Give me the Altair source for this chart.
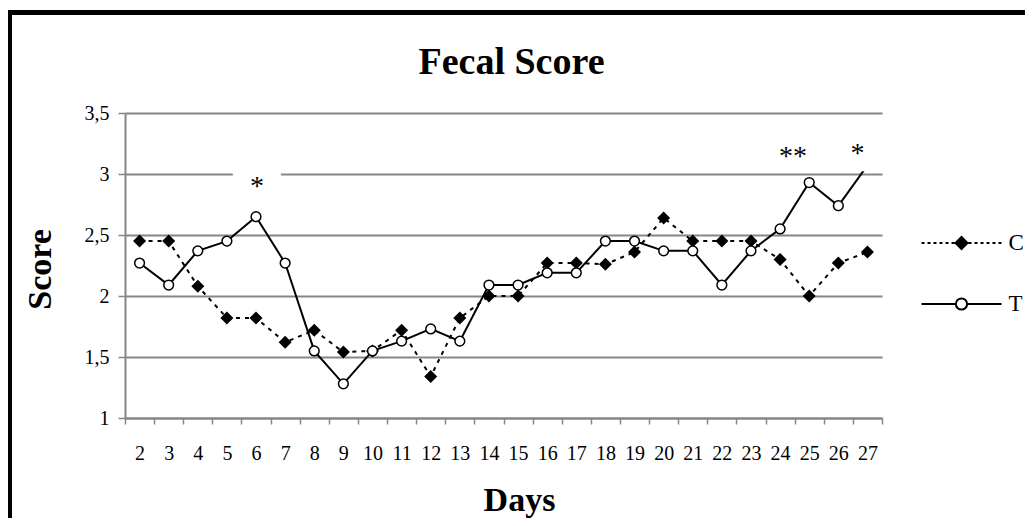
import altair as alt
import pandas as pd

# ---------------- data ----------------
days = list(range(2, 28))
c_values = [2.45, 2.45, 2.08, 1.82, 1.82, 1.62, 1.72, 1.54, 1.55, 1.72,
            1.34, 1.82, 2.00, 2.00, 2.27, 2.27, 2.26, 2.36, 2.64, 2.45,
            2.45, 2.45, 2.30, 2.00, 2.27, 2.36]
t_values = [2.27, 2.09, 2.37, 2.45, 2.65, 2.27, 1.55, 1.28, 1.55, 1.63,
            1.73, 1.63, 2.09, 2.09, 2.19, 2.19, 2.45, 2.45, 2.37, 2.37,
            2.09, 2.37, 2.55, 2.93, 2.74, 3.07]
series_names = ["C", "T"]
y_ticks = [1, 1.5, 2, 2.5, 3, 3.5]

# significance marks (position in day / score units)
sig_labels = ["*", "**", "*"]
sig_day = [6.03, 24.44, 26.66]
sig_y = [2.83, 3.07, 3.10]
# white label boxes behind two of the marks
box_day = [6.03, 26.66]
box_y = [2.90, 3.17]

FONT = "Liberation Serif"
W, H = 757, 305

df = pd.DataFrame({
    "day": days * 2,
    "value": c_values + t_values,
    "series": ["C"] * len(days) + ["T"] * len(days),
})
ann_df = pd.DataFrame({"day": sig_day, "value": sig_y, "label": sig_labels})
box_df = pd.DataFrame({"day": box_day, "value": box_y})

# ---------------- legend symbol paths (line + marker) ----------------
def seg(a, b):
    return f"M{a:.3f},0L{b:.3f},0"

c_path = "".join(seg(s, s + 0.15) for s in [-2.0, -1.7, -1.4, -1.1, -0.8, -0.5])
c_path += "".join(seg(s, s + 0.15) for s in [0.35, 0.65, 0.95, 1.25, 1.55, 1.85])
c_path += "M0,-0.3L0.3,0L0,0.3L-0.3,0Z"
t_path = ("M-2,0L-0.28,0M0.28,0L2,0"
          "M0.28,0A0.28,0.28 0 1,1 -0.28,0A0.28,0.28 0 1,1 0.28,0Z")
box_path = "M-1,-0.75L1,-0.75L1,0.75L-1,0.75Z"

# ---------------- encodings ----------------
x_main = alt.X(
    "day:O",
    bandPosition=0.5,
    scale=alt.Scale(type="band", paddingInner=0, paddingOuter=0),
    axis=alt.Axis(title="Days", tickBand="extent", labelAngle=0, labelPadding=19,
                  tickSize=6, labelOverlap=False, grid=False,
                  titleX=394, titleY=92, titleBaseline="alphabetic"),
)
y_main = alt.Y(
    "value:Q",
    scale=alt.Scale(domain=[1, 3.5], nice=False, zero=False),
    axis=alt.Axis(values=y_ticks, title="Score", tickSize=7, labelPadding=9,
                  labelExpr="replace(format(datum.value, '.1~f'), '.', ',')",
                  titleX=-75, titleY=156, titleAngle=270, titleBaseline="alphabetic"),
)
x_ann = alt.X("day:Q", scale=alt.Scale(domain=[1.5, 27.5], nice=False, zero=False), axis=None)

base = alt.Chart(df)

border = alt.Chart(pd.DataFrame({"k": [0]})).mark_rect(
    filled=False, stroke="black", strokeWidth=5
).encode(
    x=alt.value(-115.5), x2=alt.value(940), y=alt.value(-100.5), y2=alt.value(450)
)

c_line = base.transform_filter("datum.series == 'C'").mark_line(
    color="black", strokeWidth=2, strokeDash=[4, 5]
).encode(x=x_main, y=y_main)
c_pts = base.transform_filter("datum.series == 'C'").mark_point(
    shape="diamond", filled=True, color="black", size=169, opacity=1, strokeWidth=0
).encode(x=x_main, y=y_main)
t_line = base.transform_filter("datum.series == 'T'").mark_line(
    color="black", strokeWidth=2
).encode(x=x_main, y=y_main)
t_pts = base.transform_filter("datum.series == 'T'").mark_point(
    shape="circle", filled=True, fill="white", stroke="black", strokeWidth=1.5,
    size=95, opacity=1
).encode(x=x_main, y=y_main)

leg = alt.Legend(title=None, orient="none", legendX=815.5, legendY=109, padding=0,
                 symbolSize=1600, labelOffset=26, rowPadding=28,
                 labelFont=FONT, labelFontSize=23, labelColor="black",
                 symbolStrokeColor="black", symbolStrokeWidth=2)
legend_layer = base.transform_filter("false").mark_point(
    filled=True, strokeWidth=2, size=1600, opacity=1
).encode(
    shape=alt.Shape("series:N", scale=alt.Scale(domain=series_names, range=[c_path, t_path]), legend=leg),
    fill=alt.Fill("series:N", scale=alt.Scale(domain=series_names, range=["black", "white"]), legend=leg),
    stroke=alt.Stroke("series:N", scale=alt.Scale(domain=series_names, range=["black", "black"]), legend=leg),
)

inner = alt.layer(border, c_line, c_pts, t_line, t_pts, legend_layer)

boxes = alt.Chart(box_df).mark_point(
    shape=box_path, filled=True, fill="white", strokeWidth=0, size=2304, opacity=1
).encode(x=x_ann, y=y_main)
texts = alt.Chart(ann_df).mark_text(
    font=FONT, fontSize=28, baseline="alphabetic", align="center", color="black"
).encode(x=x_ann, y=y_main, text="label:N")

chart = alt.layer(inner, boxes, texts).resolve_scale(x="independent").properties(
    width=W, height=H,
    title=alt.TitleParams(text="Fecal Score", font=FONT, fontSize=38, fontWeight="bold",
                          color="black", anchor="middle", frame="group",
                          baseline="alphabetic", offset=-102, dx=8),
    padding={"left": 117, "top": 105, "right": 143, "bottom": 100},
    autosize="none",
).configure(font=FONT, background="white").configure_view(stroke=None).configure_axis(
    labelFont=FONT, labelFontSize=20, labelColor="black",
    titleFont=FONT, titleFontSize=34, titleFontWeight="bold", titleColor="black",
    domainColor="#868686", domainWidth=2, tickColor="#868686", tickWidth=1.5,
    gridColor="#868686", gridWidth=2,
)

chart.save("out.html", embed_options={"renderer": "svg", "actions": False})
